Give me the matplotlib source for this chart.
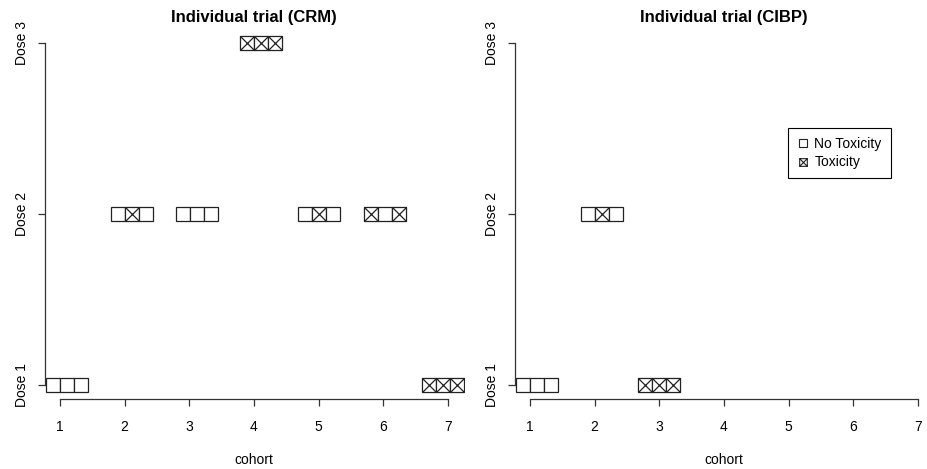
import numpy as np
import matplotlib
matplotlib.use("Agg")
import matplotlib.pyplot as plt
from matplotlib.path import Path
from matplotlib.lines import Line2D

# --- data ---
dose_labels = ["Dose 1", "Dose 2", "Dose 3"]
cohort_ticks = [1, 2, 3, 4, 5, 6, 7]

crm_x = [1.11, 2.11, 3.12, 4.11, 5.00, 6.02, 6.92]   # centre of each cohort group
crm_dose = [1, 2, 2, 3, 2, 2, 1]
crm_tox = [[0, 0, 0], [0, 1, 0], [0, 0, 0], [1, 1, 1], [0, 1, 0], [1, 0, 1], [1, 1, 1]]

cibp_x = [1.11, 2.11, 3.00]
cibp_dose = [1, 2, 1]
cibp_tox = [[0, 0, 0], [0, 1, 0], [1, 1, 1]]

patient_gap = 0.216

plt.rcParams['font.family'] = ['Liberation Sans', 'DejaVu Sans']

# square with an X through it (like R pch=7)
box_x = Path([(-1, -1), (1, -1), (1, 1), (-1, 1), (-1, -1),
              (-1, -1), (1, 1), (-1, 1), (1, -1)],
             [Path.MOVETO, Path.LINETO, Path.LINETO, Path.LINETO, Path.CLOSEPOLY,
              Path.MOVETO, Path.LINETO, Path.MOVETO, Path.LINETO])

W, H = 927, 469
fig = plt.figure(figsize=(W / 100, H / 100), dpi=100)


def panel(left_px, title, xs, doses, tox):
    ax = fig.add_axes([left_px / W, (H - 398.7) / H, 419 / W, 369.4 / H])
    for x0, d, t in zip(xs, doses, tox):
        for j, flag in enumerate(t):
            px = x0 + (j - 1) * patient_gap
            ax.plot(px, d, marker=box_x if flag else 's', ms=10.1,
                    mfc='white', mec='#222222', mew=0.9, ls='none')
    ax.set_xlim(0.76, 7.24)
    ax.set_ylim(0.92, 3.08)
    for s in ['top', 'right']:
        ax.spines[s].set_visible(False)
    ax.spines['left'].set_bounds(1, 3)
    ax.spines['bottom'].set_bounds(1, 7)
    for s in ['left', 'bottom']:
        ax.spines[s].set_linewidth(0.9)
        ax.spines[s].set_color('#333333')
    ax.set_xticks(cohort_ticks)
    ax.set_yticks([1, 2, 3])
    ax.set_yticklabels(dose_labels, rotation=90, va='center')
    ax.tick_params(length=5, width=0.9, color='#333333', labelsize=10)
    ax.tick_params(axis='x', pad=10)
    ax.tick_params(axis='y', pad=6)
    ax.set_xlabel('cohort', fontsize=10, labelpad=14)
    ax.set_title(title, fontsize=12, fontweight='bold', pad=5)
    return ax


panel(44.5, 'Individual trial (CRM)', crm_x, crm_dose, crm_tox)
ax2 = panel(514.5, 'Individual trial (CIBP)', cibp_x, cibp_dose, cibp_tox)

handles = [Line2D([], [], marker='s', ms=5.5, mfc='white', mec='#222222', mew=0.8, ls='none'),
           Line2D([], [], marker=box_x, ms=5.5, mfc='white', mec='#222222', mew=0.8, ls='none')]
leg = fig.legend(handles, ['No Toxicity', 'Toxicity'], loc='upper left',
                 bbox_to_anchor=(788 / W, 1 - 128 / H), fontsize=10,
                 fancybox=False, edgecolor='black', framealpha=1,
                 handlelength=0.8, handletextpad=0.45, labelspacing=0.32,
                 borderpad=0.65, borderaxespad=0)
leg.get_frame().set_linewidth(0.8)

fig.savefig('out.png', dpi=100)
